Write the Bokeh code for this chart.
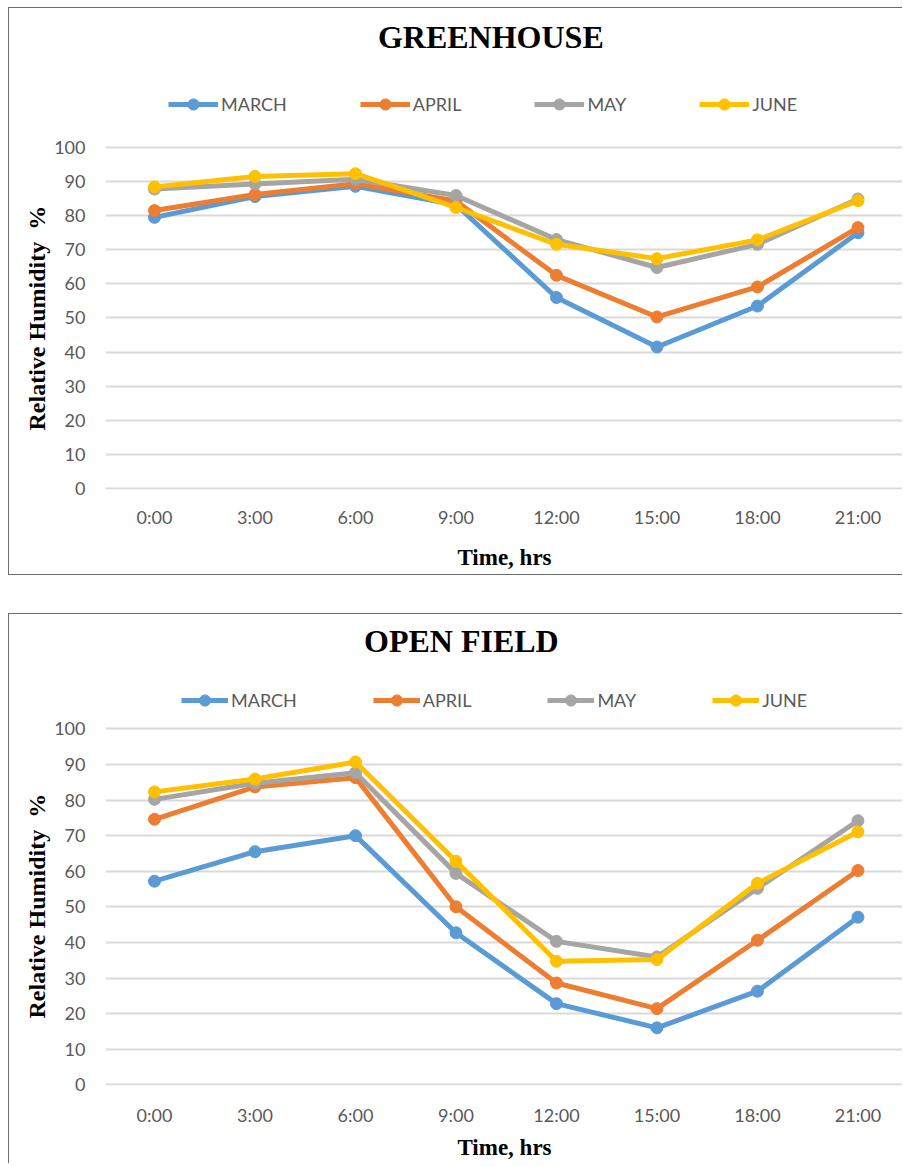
from bokeh.plotting import figure
from bokeh.models import Range1d, FixedTicker, Legend, LegendItem, Label, Title
from bokeh.layouts import column
from bokeh.embed import file_html
from bokeh.resources import INLINE

# ---------------- data ----------------
hours = [0, 3, 6, 9, 12, 15, 18, 21]
hour_labels = ["0:00", "3:00", "6:00", "9:00", "12:00", "15:00", "18:00", "21:00"]
y_ticks = [0, 10, 20, 30, 40, 50, 60, 70, 80, 90, 100]
months = ["MARCH", "APRIL", "MAY", "JUNE"]

gh_march = [79.5, 85.6, 88.6, 83.2, 56.0, 41.5, 53.5, 75.0]
gh_april = [81.5, 86.2, 89.4, 84.3, 62.5, 50.3, 59.1, 76.5]
gh_may = [87.8, 89.3, 90.7, 85.9, 73.0, 64.8, 71.6, 84.9]
gh_june = [88.4, 91.5, 92.3, 82.4, 71.6, 67.4, 72.9, 84.4]

of_march = [57.2, 65.5, 70.0, 42.7, 22.8, 16.0, 26.3, 47.1]
of_april = [74.6, 83.7, 86.3, 50.0, 28.6, 21.4, 40.6, 60.2]
of_may = [80.2, 84.7, 87.7, 59.4, 40.3, 35.9, 55.2, 74.2]
of_june = [82.3, 85.9, 90.7, 62.8, 34.7, 35.2, 56.6, 71.1]

colors = ["#5B9BD5", "#ED7D31", "#A5A5A5", "#FFC000"]

SANS = "Lato"
SERIF = "Liberation Serif"


def build(title, series, height, bottom, y0, y1, title_xy, legend_xy, spacing, glyph_w,
          xl_standoff, xa_standoff, ylab_offset, border):
    p = figure(width=894, height=height, output_backend="svg", toolbar_location=None,
               x_range=Range1d(-1.463, 22.36), y_range=Range1d(y0, y1),
               min_border_left=96, min_border_right=0, min_border_top=0,
               min_border_bottom=bottom)
    p.outline_line_color = None
    p.background_fill_color = "white"
    p.border_fill_color = "white"

    p.xaxis.ticker = FixedTicker(ticks=hours)
    p.xaxis.major_label_overrides = {h: l for h, l in zip(hours, hour_labels)}
    p.yaxis.ticker = FixedTicker(ticks=y_ticks)
    for ax in (p.xaxis[0], p.yaxis[0]):
        ax.axis_line_color = None
        ax.major_tick_line_color = None
        ax.minor_tick_line_color = None
        ax.major_tick_out = 0
        ax.major_tick_in = 0
        ax.major_label_text_font = SANS
        ax.major_label_text_font_size = "18px"
        ax.major_label_text_color = "#595959"
        ax.axis_label_text_font = SERIF
        ax.axis_label_text_font_style = "bold"
        ax.axis_label_text_font_size = "23px"
        ax.axis_label_text_color = "black"
    p.xaxis.axis_label = "Time, hrs"
    p.yaxis.major_label_standoff = 20
    p.xaxis.major_label_standoff = xl_standoff
    p.xaxis.axis_label_standoff = xa_standoff

    p.add_layout(Title(text="Relative Humidity\u00a0\u00a0%", align="left", offset=ylab_offset,
                       text_font=SERIF, text_font_style="bold", text_font_size="24px",
                       text_color="black", standoff=4), "left")

    p.xgrid.grid_line_color = None
    p.ygrid.grid_line_color = "#D9D9D9"
    p.ygrid.grid_line_width = 2

    items = []
    for name, vals, c in zip(months, series, colors):
        lr = p.line(hours, vals, line_color=c, line_width=5)
        sr = p.scatter(hours, vals, marker="circle", size=12, fill_color=c, line_color=c)
        items.append(LegendItem(label=name, renderers=[lr, sr]))

    leg = Legend(items=items, orientation="horizontal", location=legend_xy,
                 glyph_width=glyph_w, glyph_height=28, label_standoff=3, spacing=spacing,
                 padding=0, margin=0, border_line_color=None, background_fill_alpha=0,
                 label_text_font=SANS, label_text_font_size="18px",
                 label_text_color="#595959", label_height=28)
    p.add_layout(leg)

    p.add_layout(Label(x=title_xy[0], y=title_xy[1], text=title, text_align="center",
                       text_baseline="middle", text_font=SERIF, text_font_style="bold",
                       text_font_size="32px", text_color="black"))
    p.styles = border
    return p


p1 = build("GREENHOUSE", [gh_march, gh_april, gh_may, gh_june], 568, 87, -0.3, 140.75,
           (10.04, 132.3), (63, 371), 73, 50, 16, 14, 59,
           {"border-left": "1px solid #6e6e6e", "border-top": "1px solid #6e6e6e",
            "border-bottom": "1px solid #6e6e6e"})
p1.margin = (7, 0, 0, 8)

p2 = build("OPEN FIELD", [of_march, of_april, of_may, of_june], 550, 79, -0.2, 132.14,
           (9.16, 124.8), (76, 371), 76, 47, 18, 6, 67,
           {"border-left": "1px solid #6e6e6e", "border-top": "1px solid #6e6e6e"})
p2.margin = (38, 0, 0, 8)

layout = column(p1, p2, spacing=0)
open("out.html", "w").write(file_html(layout, INLINE))
